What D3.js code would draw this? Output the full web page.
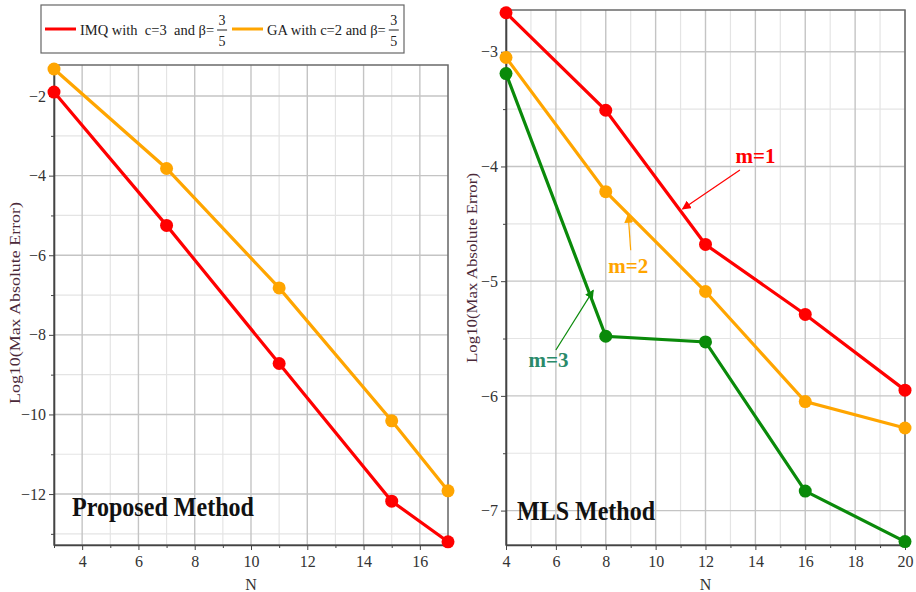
<!DOCTYPE html>
<html><head><meta charset="utf-8">
<script src="https://cdn.jsdelivr.net/npm/d3@7"></script>
<style>body{margin:0;background:#fff}svg{display:block}</style>
</head><body>
<svg id="c" width="916" height="592"></svg>
<script>
// ---- data ----
const leftN = [3, 7, 11, 15, 17];
const imqValues = [-1.9, -5.25, -8.72, -12.18, -13.2];
const gaValues = [-1.32, -3.82, -6.82, -10.16, -11.92];
const leftXTicks = [4, 6, 8, 10, 12, 14, 16];
const leftYTicks = [-2, -4, -6, -8, -10, -12];

const rightN = [4, 8, 12, 16, 20];
const m1Values = [-2.66, -3.51, -4.68, -5.29, -5.95];
const m2Values = [-3.05, -4.22, -5.09, -6.05, -6.28];
const m3Values = [-3.19, -5.48, -5.53, -6.83, -7.27];
const rightXTicks = [4, 6, 8, 10, 12, 14, 16, 18, 20];
const rightYTicks = [-3, -4, -5, -6, -7];

const RED = "#ff0000", ORANGE = "#ffa500", GREEN = "#0a8a0a";
const svg = d3.select("#c");
const serif = "'Liberation Serif','Times New Roman',serif";

function panel(o) {
  const x = d3.scaleLinear().domain(o.xd).range([o.x0, o.x1]);
  const y = d3.scaleLinear().domain(o.yd).range([o.y1, o.y0]);
  const g = svg.append("g");
  // minor grid
  g.selectAll(".vx").data(o.xMinor).join("line")
    .attr("x1", d => x(d)).attr("x2", d => x(d)).attr("y1", o.y0).attr("y2", o.y1)
    .attr("stroke", "#e4e4e4").attr("stroke-width", 1.2);
  g.selectAll(".hy").data(o.yMinor).join("line")
    .attr("y1", d => y(d)).attr("y2", d => y(d)).attr("x1", o.x0).attr("x2", o.x1)
    .attr("stroke", "#e4e4e4").attr("stroke-width", 1.2);
  // major grid
  g.selectAll(".vX").data(o.xTicks).join("line")
    .attr("x1", d => x(d)).attr("x2", d => x(d)).attr("y1", o.y0).attr("y2", o.y1)
    .attr("stroke", "#c4c4c4").attr("stroke-width", 1.4);
  g.selectAll(".hY").data(o.yTicks).join("line")
    .attr("y1", d => y(d)).attr("y2", d => y(d)).attr("x1", o.x0).attr("x2", o.x1)
    .attr("stroke", "#c4c4c4").attr("stroke-width", 1.4);
  // frame
  g.append("rect").attr("x", o.x0).attr("y", o.y0).attr("width", o.x1 - o.x0).attr("height", o.y1 - o.y0)
    .attr("fill", "none").attr("stroke", "#6a6a6a").attr("stroke-width", 1.5);
  // axes
  const xa = g.append("g").attr("transform", `translate(0,${o.y1})`)
    .call(d3.axisBottom(x).tickValues(o.xTicks).tickSize(5).tickSizeOuter(0).tickFormat(d3.format("d")));
  xa.select(".domain").attr("stroke", "#444").attr("stroke-width", 1.6);
  g.append("g").attr("transform", `translate(0,${o.y1})`)
    .call(d3.axisBottom(x).tickValues(o.xMinor).tickSize(3).tickFormat(""))
    .select(".domain").remove();
  const ya = g.append("g").attr("transform", `translate(${o.x0},0)`)
    .call(d3.axisLeft(y).tickValues(o.yTicks).tickSize(5).tickSizeOuter(0).tickFormat(d => "\u2212" + Math.abs(d)));
  ya.select(".domain").attr("stroke", "#444").attr("stroke-width", 1.6);
  g.append("g").attr("transform", `translate(${o.x0},0)`)
    .call(d3.axisLeft(y).tickValues(o.yMinor).tickSize(3).tickFormat(""))
    .select(".domain").remove();
  [xa, ya].forEach(a => a.attr("font-family", serif).attr("font-size", 16));
  g.selectAll(".tick text").attr("font-family", serif).attr("font-size", 16).attr("fill", "#333");
  g.selectAll(".tick line").attr("stroke", "#444");
  xa.selectAll(".tick text").attr("dy", "0.85em");
  // labels
  g.append("text").attr("x", (o.x0 + o.x1) / 2).attr("y", o.y1 + 45).attr("text-anchor", "middle")
    .attr("font-family", serif).attr("font-size", 16).attr("fill", "#333").text("N");
  g.append("text").attr("transform", `translate(${o.ylx},${o.ylc}) rotate(-90)`)
    .attr("text-anchor", "middle").attr("dominant-baseline", "central")
    .attr("font-family", serif).attr("font-size", 14).attr("fill", "#4a2838")
    .attr("textLength", o.yll).attr("lengthAdjust", "spacingAndGlyphs")
    .text("Log10(Max Absolute Error)");
  g.append("text").attr("x", o.tx).attr("y", o.ty).attr("font-family", serif).attr("font-weight", "bold")
    .attr("font-size", 27).attr("fill", "#111")
    .attr("textLength", o.tl).attr("lengthAdjust", "spacingAndGlyphs").text(o.title);
  // series
  const line = d3.line().x(d => x(d[0])).y(d => y(d[1]));
  o.series.forEach(s => {
    const pts = o.n.map((n, i) => [n, s.v[i]]);
    g.append("path").datum(pts).attr("d", line).attr("fill", "none")
      .attr("stroke", s.c).attr("stroke-width", 3.2);
    g.selectAll(null).data(pts).join("circle").attr("cx", d => x(d[0])).attr("cy", d => y(d[1]))
      .attr("r", 6.5).attr("fill", s.c);
  });
  return { x, y, g };
}

const L = panel({
  x0: 54, x1: 448, y0: 65, y1: 545, xd: [3, 17], yd: [-13.28, -1.22],
  xTicks: leftXTicks, xMinor: [3, 5, 7, 9, 11, 13, 15, 17],
  yTicks: leftYTicks, yMinor: [-3, -5, -7, -9, -11, -13],
  n: leftN, series: [{ v: gaValues, c: ORANGE }, { v: imqValues, c: RED }],
  ylx: 15, ylc: 303, yll: 202, title: "Proposed Method", tx: 72, ty: 516, tl: 182
});

const R = panel({
  x0: 506, x1: 905, y0: 10, y1: 545, xd: [4, 20], yd: [-7.3, -2.636],
  xTicks: rightXTicks, xMinor: [5, 7, 9, 11, 13, 15, 17, 19],
  yTicks: rightYTicks, yMinor: [-3.5, -4.5, -5.5, -6.5],
  n: rightN, series: [{ v: m3Values, c: GREEN }, { v: m2Values, c: ORANGE }, { v: m1Values, c: RED }],
  ylx: 472, ylc: 268, yll: 190, title: "MLS Method", tx: 517, ty: 520, tl: 138
});

// annotations (right panel)
const defs = svg.append("defs");
[["aR", RED], ["aO", ORANGE], ["aG", GREEN]].forEach(([id, c]) => {
  defs.append("marker").attr("id", id).attr("viewBox", "0 0 10 10").attr("refX", 9).attr("refY", 5)
    .attr("markerWidth", 9).attr("markerHeight", 9).attr("markerUnits", "userSpaceOnUse").attr("orient", "auto")
    .append("path").attr("d", "M0,0 L10,5 L0,10 Z").attr("fill", c);
});
function anno(t, c, tx, ty, ax1, ay1, ax2, ay2, m, tc) {
  svg.append("line").attr("x1", R.x(ax1)).attr("y1", R.y(ay1)).attr("x2", R.x(ax2)).attr("y2", R.y(ay2))
    .attr("stroke", c).attr("stroke-width", 1.2).attr("marker-end", `url(#${m})`);
  svg.append("text").attr("x", R.x(tx)).attr("y", R.y(ty)).attr("font-family", serif).attr("font-weight", "bold")
    .attr("font-size", 21).attr("fill", tc || c).text(t);
}
anno("m=1", RED, 13.2, -3.97, 13.38, -4.03, 11.08, -4.37, "aR");
anno("m=2", ORANGE, 8.1, -4.93, 9.0, -4.73, 8.9, -4.42, "aO");
anno("m=3", GREEN, 4.9, -5.75, 6.0, -5.6, 7.5, -5.08, "aG", "#2a8a6a");

// legend
const lg = svg.append("g");
lg.append("rect").attr("x", 41).attr("y", 5).attr("width", 363).attr("height", 48)
  .attr("fill", "#fff").attr("stroke", "#666").attr("stroke-width", 1.2);
const legendLabels = ["IMQ with  c=3  and \u03b2=", "GA with c=2 and \u03b2="];
const legendColors = [RED, ORANGE];
const legendX = [45, 232];
legendLabels.forEach((label, i) => {
  const px = legendX[i];
  lg.append("line").attr("x1", px).attr("x2", px + 31).attr("y1", 29).attr("y2", 29)
    .attr("stroke", legendColors[i]).attr("stroke-width", 3);
  const t = lg.append("text").attr("x", px + 35).attr("y", 35).attr("font-family", serif).attr("font-size", 14.5)
    .attr("fill", "#222").style("white-space", "pre").text(label);
  const w = t.node().getComputedTextLength();
  const fx = px + 35 + w + 8;
  lg.append("text").attr("x", fx).attr("y", 25).attr("text-anchor", "middle").attr("font-family", serif)
    .attr("font-size", 14).attr("fill", "#222").text("3");
  lg.append("line").attr("x1", fx - 5).attr("x2", fx + 5).attr("y1", 30).attr("y2", 30)
    .attr("stroke", "#222").attr("stroke-width", 1);
  lg.append("text").attr("x", fx).attr("y", 46).attr("text-anchor", "middle").attr("font-family", serif)
    .attr("font-size", 14).attr("fill", "#222").text("5");
});
</script>
</body></html>
